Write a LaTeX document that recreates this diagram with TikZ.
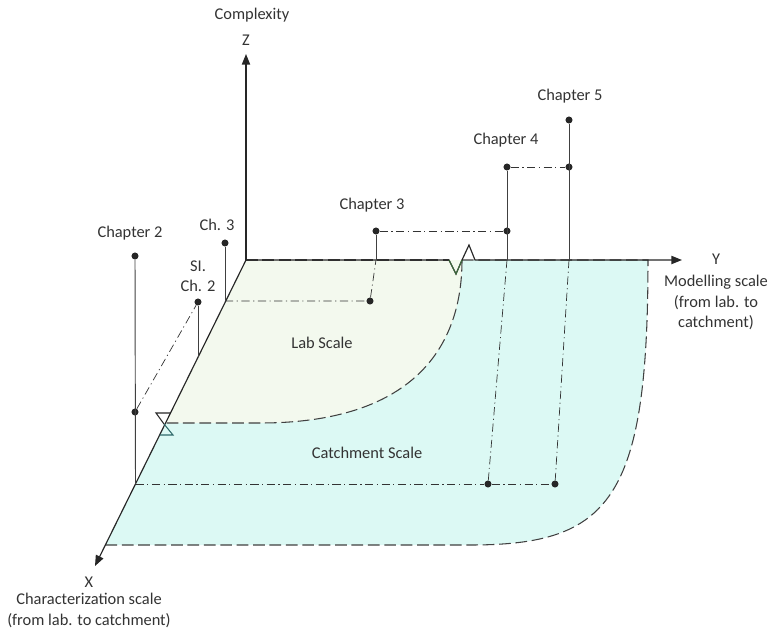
\documentclass[tikz,border=0pt]{standalone}
\usepackage{fontspec}
\setmainfont{Carlito}
\usetikzlibrary{arrows.meta}

\definecolor{labfill}{HTML}{F3F9EE}
\definecolor{catchfill}{HTML}{DCF9F4}
\definecolor{txtgray}{HTML}{333333}
\definecolor{breakgreen}{HTML}{3E6B3E}
\definecolor{breakteal}{HTML}{2F6A6A}

\tikzset{
  dot/.style={circle,fill=black!85,inner sep=0pt,minimum size=6pt},
  lbl/.style={text=txtgray,font=\fontsize{14}{17.5}\selectfont,align=center,inner sep=1pt},
  axis/.style={-{Triangle[length=9pt,width=7pt]},line width=1pt,black!85},
  chline/.style={line width=0.8pt,black!75},
  proj/.style={line width=0.6pt,black!80,dash pattern=on 7pt off 3pt on 1pt off 3pt},
  bound/.style={line width=0.9pt,black!75,dash pattern=on 10pt off 4pt},
}

\begin{document}
\begin{tikzpicture}[x=0.03cm,y=-0.03cm]
\useasboundingbox (0,0) rectangle (771,637);

% axes end points
\coordinate (O) at (246,260);
\coordinate (ztip) at (246,54);
\coordinate (ytip) at (682,260);
\coordinate (xtip) at (95,566);

% planes
\fill[catchfill] (O) -- (648,260) .. controls (648,500) and (610,545) .. (470,545) -- (105.4,545) -- cycle;
\fill[labfill] (O) -- (462,260) .. controls (462,350) and (410,423) .. (260,423) -- (165.6,423) -- cycle;

% points on the axes
\coordinate (c2base) at (135.5,484);
\coordinate (sibase) at (198,357);
\coordinate (c3sbase) at (225,301);
\coordinate (c3base) at (376,260);
\coordinate (c4base) at (507,260);
\coordinate (c5base) at (569,260);

% chapters
\node[dot] (c2) at (135,256) {};
\node[dot] (c2mid) at (135,412) {};
\node[dot] (si) at (198,302) {};
\node[dot] (c3s) at (225,243) {};
\node[dot] (c3p) at (370,301) {};
\node[dot] (c3) at (376,231) {};
\node[dot] (c4) at (507,167) {};
\node[dot] (c4low) at (507,231) {};
\node[dot] (c5) at (569,120) {};
\node[dot] (c5low) at (569,167) {};
\node[dot] (p4) at (488,484) {};
\node[dot] (p5) at (555,484) {};

% projections
\draw[proj] (c2mid) -- (si);
\draw[proj] (c3sbase) -- (c3p) -- (c3base);
\draw[proj] (c3) -- (c4low);
\draw[proj] (c4) -- (c5low);
\draw[proj] (c4base) -- (p4);
\draw[proj] (c5base) -- (p5);
\draw[proj] (c2base) -- (p4) -- (p5);

% scale borders
\draw[bound] (462,260) -- (648,260) .. controls (648,500) and (610,545) .. (470,545) -- (105.4,545);
\draw[bound] (O) -- (449,260);
\draw[bound] (462,260) .. controls (462,350) and (410,423) .. (260,423) -- (165.6,423);

% axes with breaks
\draw[axis] (O) -- (ztip);
\draw[axis] (O) -- (449,260) -- (456,274) -- (462,260) -- (469,245) -- (475,260) -- (ytip);
\draw[breakgreen,line width=0.9pt] (449,260) -- (456,274) -- (462,260);
\draw[axis] (O) -- (xtip);
\draw[line width=0.9pt,black!85] (170.5,413) -- (156,413) -- (164,424);
\draw[line width=0.9pt,breakteal] (164,424) -- (173,435) -- (159.6,435);

% chapter lines
\draw[chline] (c2) -- (c2base);
\draw[chline] (si) -- (sibase);
\draw[chline] (c3s) -- (c3sbase);
\draw[chline] (c3) -- (c3base);
\draw[chline] (c4) -- (c4base);
\draw[chline] (c5) -- (c5base);

% labels
\node[lbl] (lcomp) at (252,15) {Complexity};
\node[lbl] (lz) at (246,40) {Z};
\node[lbl] (ly) at (716,259) {Y};
\node[lbl,anchor=north] (lymod) at (716,274) {Modelling scale\\(from lab. to\\catchment)};
\node[lbl] (lx) at (89,582) {X};
\node[lbl,anchor=north] (lxchar) at (89,592) {Characterization scale\\(from lab. to catchment)};
\node[lbl] (lc2) at (130,233) {Chapter 2};
\node[lbl] (lsi) at (198,276) {SI.\\Ch. 2};
\node[lbl] (lc3s) at (217,225) {Ch. 3};
\node[lbl] (lc3) at (372,205) {Chapter 3};
\node[lbl] (lc4) at (506,140) {Chapter 4};
\node[lbl] (lc5) at (570,96) {Chapter 5};
\node[lbl] (llab) at (322,343) {Lab Scale};
\node[lbl] (lcatch) at (367,453) {Catchment Scale};

\end{tikzpicture}
\end{document}
